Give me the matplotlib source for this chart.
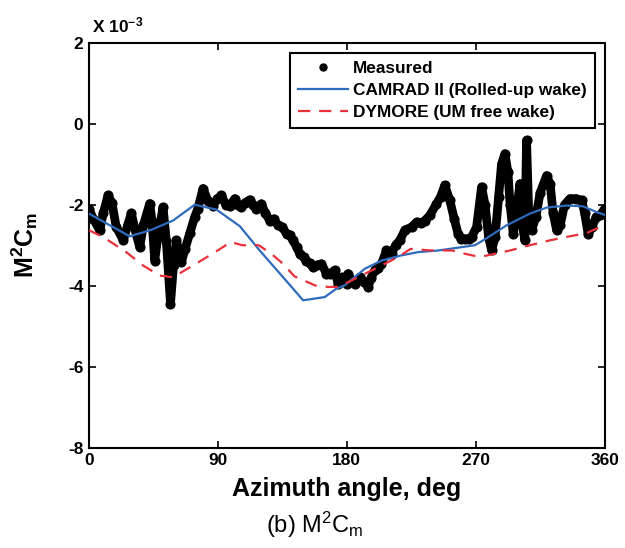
import numpy as np
import matplotlib
matplotlib.use("Agg")
import matplotlib.pyplot as plt
from matplotlib.lines import Line2D

plt.rcParams['font.family'] = ['Liberation Sans', 'DejaVu Sans']
plt.rcParams['axes.unicode_minus'] = False
plt.rcParams['mathtext.fontset'] = 'custom'
plt.rcParams['mathtext.rm'] = 'Liberation Sans'
plt.rcParams['mathtext.it'] = 'Liberation Sans'
plt.rcParams['mathtext.bf'] = 'Liberation Sans:bold'

# measured pitching moment (x 1e-3) vs azimuth
meas_psi = [0, 3, 7.5, 10, 13.3, 16, 19, 24, 27, 29.6, 32, 35.4, 38, 42.4, 44, 45.9,
            48, 51.7, 54, 56.9, 59, 61, 63, 64.5, 67, 70.3, 73.8, 76, 79.6, 83, 86.6,
            89.5, 92.5, 95.5, 98.3, 101.8, 104, 106.4, 109, 112.2, 114.5, 116.9, 120.4,
            123, 126.2, 129, 132, 135, 137.9, 140, 142.5, 145, 147.2, 150, 151.8, 154,
            156.5, 159, 162.3, 165.8, 168.1, 171.6, 173.9, 176.3, 179.8, 180.9, 183,
            185.6, 189.1, 192, 194.9, 197, 199.5, 202, 204.2, 207.7, 211.2, 214, 217,
            220.5, 225.2, 228.7, 231.5, 234.5, 238, 242.6, 245.5, 248.4, 251.9, 255,
            257.7, 260, 262.4, 265, 267.1, 270.6, 274.1, 276.5, 279, 281.1, 283.5, 286,
            288, 290.4, 292.5, 294, 296.2, 298, 300.9, 302.5, 304.3, 305.5, 307, 309,
            312, 315, 319.5, 322, 324, 326.5, 329, 332, 335.8, 340, 344, 346, 348.5,
            351, 354.3, 357, 360]
meas_cm = [-2.10, -2.35, -2.63, -2.20, -1.77, -1.95, -2.55, -2.88, -2.50, -2.21, -2.60,
           -3.05, -2.50, -1.97, -2.40, -3.38, -2.80, -2.06, -2.90, -4.44, -3.50, -2.88,
           -3.20, -3.42, -3.10, -2.71, -2.30, -2.10, -1.60, -1.90, -2.02, -1.85, -1.77,
           -2.00, -2.02, -1.85, -2.00, -2.06, -1.95, -1.88, -2.00, -2.10, -1.98, -2.20,
           -2.39, -2.35, -2.51, -2.55, -2.72, -2.75, -2.88, -3.05, -3.21, -3.30, -3.38,
           -3.45, -3.54, -3.50, -3.46, -3.70, -3.70, -3.62, -3.95, -3.79, -3.95, -3.70,
           -3.85, -3.95, -3.79, -3.90, -4.03, -3.80, -3.62, -3.55, -3.46, -3.13, -3.21,
           -3.00, -2.88, -2.63, -2.55, -2.43, -2.45, -2.39, -2.26, -1.98, -1.80, -1.52,
           -1.89, -2.35, -2.72, -2.85, -2.84, -2.85, -2.80, -2.55, -1.56, -2.00, -2.80,
           -3.13, -2.80, -1.80, -1.00, -0.74, -1.20, -2.00, -2.72, -2.30, -1.48, -2.50,
           -2.88, -0.41, -2.20, -2.63, -2.30, -1.70, -1.28, -1.50, -2.20, -2.63, -2.50,
           -2.00, -1.85, -1.85, -1.89, -2.20, -2.72, -2.55, -2.30, -2.25, -2.10]

# CAMRAD II (rolled-up wake)
cam_psi = [0, 28.4, 42.8, 58.7, 73.8, 89, 105.3, 119.2, 135.5, 149.5, 164.6, 172.8,
           178.6, 192.6, 204.2, 218.2, 229.8, 243.8, 257.7, 269.4, 275.2, 291.5, 307.8,
           319.5, 333.4, 345, 354.3, 360]
cam_cm = [-2.22, -2.78, -2.63, -2.39, -2.00, -2.12, -2.53, -3.13, -3.79, -4.36, -4.28,
          -4.07, -3.99, -3.58, -3.38, -3.25, -3.17, -3.13, -3.06, -3.00, -2.88, -2.51,
          -2.22, -2.07, -2.02, -2.04, -2.18, -2.25]

# DYMORE (UM free wake)
dym_psi = [0, 10, 26, 37.7, 49.4, 58.7, 72.6, 87.2, 99, 107, 118.5, 127.3, 135.5, 143.5,
           157.7, 167, 174, 181, 187.9, 201.9, 215.9, 224.5, 239.1, 253.5, 263.6, 272.9,
           283.4, 293.9, 307.8, 321.7, 335.6, 347.4, 354.3, 360]
dym_cm = [-2.63, -2.80, -3.17, -3.50, -3.75, -3.79, -3.50, -3.19, -2.92, -3.00, -3.00,
          -3.21, -3.46, -3.77, -3.99, -4.03, -4.03, -3.91, -3.79, -3.54, -3.29, -3.09,
          -3.13, -3.13, -3.22, -3.29, -3.21, -3.13, -3.00, -2.88, -2.78, -2.70, -2.59,
          -2.55]

blue = '#2f6bbd'
red = '#e8313a'

fig = plt.figure(figsize=(6.25, 5.48), dpi=100)
ax = fig.add_axes([0.1424, 0.183, 0.825, 0.739])

ax.plot(meas_psi, meas_cm, '-o', color='black', lw=6.3, ms=6.3,
        solid_joinstyle='round', solid_capstyle='round', zorder=2)
ax.plot(cam_psi, cam_cm, color=blue, lw=1.6, zorder=3)
ax.plot(dym_psi, dym_cm, color=red, lw=1.6, dashes=(5.5, 4), zorder=3)

ax.set_xlim(0, 360)
ax.set_ylim(-8, 2)
ax.set_xticks([0, 90, 180, 270, 360])
ax.set_yticks([-8, -6, -4, -2, 0, 2])
ax.tick_params(direction='in', top=True, right=True, length=5, width=1.2,
               labelsize=12.5, pad=4)
for lab in ax.get_xticklabels() + ax.get_yticklabels():
    lab.set_fontweight('bold')
for sp in ax.spines.values():
    sp.set_linewidth(1.5)

ax.set_xlabel('Azimuth angle, deg', fontsize=18, fontweight='bold', labelpad=6)
ax.set_ylabel(r'$\mathbf{M^2C_m}$', fontsize=18, labelpad=20)
fig.text(0.147, 0.94, r'X 10$^{\mathbf{-3}}$', fontsize=12.5, fontweight='bold')
fig.text(0.504, 0.028, r'(b) M$^2$C$_\mathrm{m}$', fontsize=17, ha='center')

handles = [Line2D([], [], ls='none', marker='o', color='black', ms=5),
           Line2D([], [], color=blue, lw=1.6),
           Line2D([], [], color=red, lw=1.6, dashes=(5.5, 4))]
labels = ['Measured', 'CAMRAD II (Rolled-up wake)', 'DYMORE (UM free wake)']
leg = ax.legend(handles, labels, loc='upper right', bbox_to_anchor=(0.981, 0.975),
                fancybox=False, edgecolor='black', framealpha=1,
                prop={'weight': 'bold', 'size': 12.4}, handlelength=2.9,
                borderpad=0.45, labelspacing=0.42, handletextpad=0.3,
                borderaxespad=0)
leg.get_frame().set_linewidth(1.5)

fig.savefig('out.png', dpi=100)
